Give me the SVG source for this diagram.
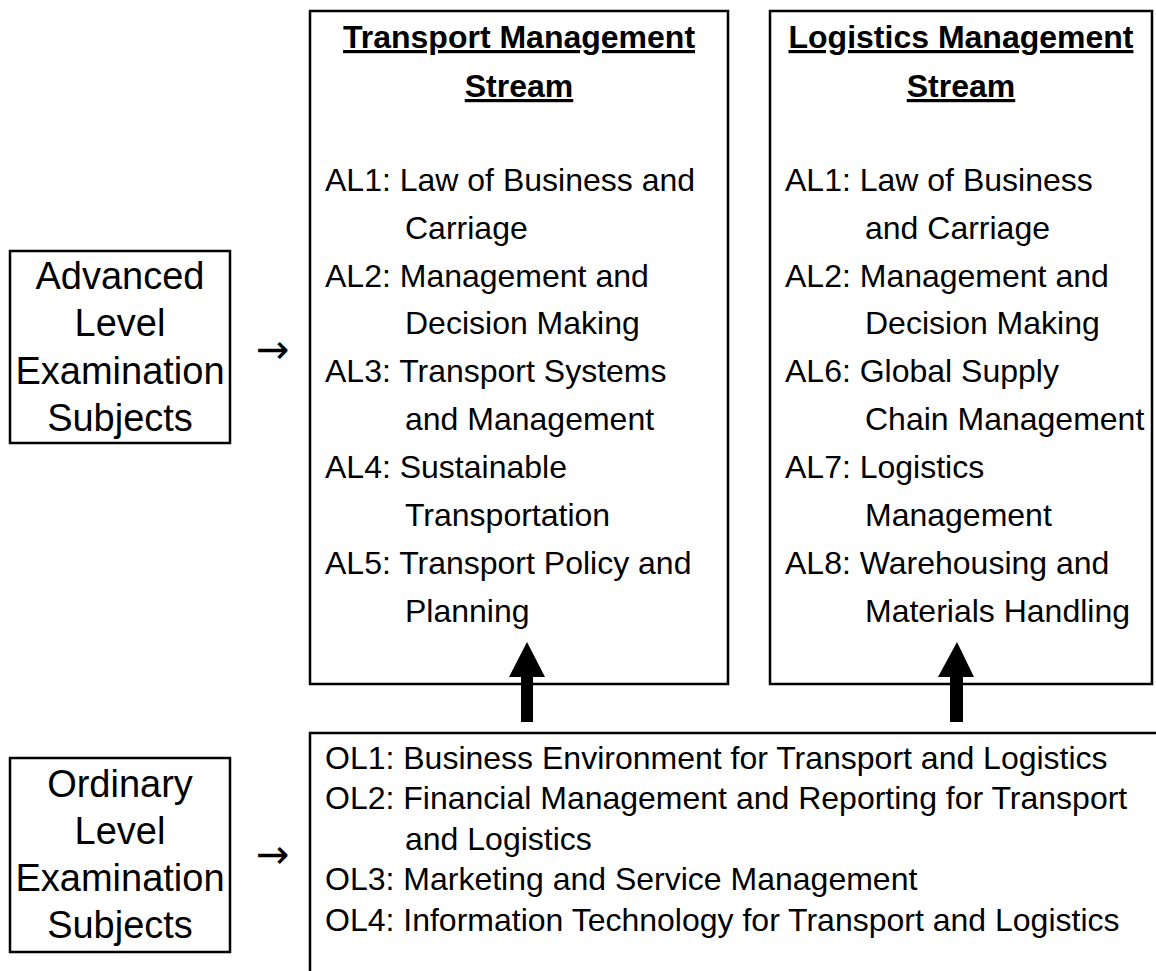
<svg xmlns="http://www.w3.org/2000/svg" width="1156" height="971" viewBox="0 0 1156 971">
<style>
.box{fill:#fff;stroke:#000;stroke-width:2.5}
.t{font-family:"Liberation Sans",Arial,sans-serif;font-size:32px;fill:#000}
.h{font-family:"Liberation Sans",Arial,sans-serif;font-size:32px;font-weight:bold;fill:#000;text-decoration:underline;text-anchor:middle}
.l{font-family:"Liberation Sans",Arial,sans-serif;font-size:38px;fill:#000;text-anchor:middle}
.ar{font-family:"DejaVu Sans",sans-serif;font-size:40px;fill:#000}
</style>
<rect width="1156" height="971" fill="#fff"/>
<g id="advanced">
<rect class="box" x="10" y="251" width="220" height="192"/>
<text class="l" x="120" y="289">Advanced</text>
<text class="l" x="120" y="336">Level</text>
<text class="l" x="120" y="384">Examination</text>
<text class="l" x="120" y="431">Subjects</text>
</g>
<g id="ordinary">
<rect class="box" x="10" y="758" width="220" height="194"/>
<text class="l" x="120" y="797">Ordinary</text>
<text class="l" x="120" y="844">Level</text>
<text class="l" x="120" y="891">Examination</text>
<text class="l" x="120" y="938">Subjects</text>
</g>
<g id="transport">
<rect class="box" x="310" y="11" width="418" height="673"/>
<text class="h" x="519" y="48">Transport Management</text>
<text class="h" x="519" y="97">Stream</text>
<text class="t" x="325" y="191">AL1: Law of Business and</text>
<text class="t" x="405" y="239">Carriage</text>
<text class="t" x="325" y="287">AL2: Management and</text>
<text class="t" x="405" y="334">Decision Making</text>
<text class="t" x="325" y="382">AL3: Transport Systems</text>
<text class="t" x="405" y="430">and Management</text>
<text class="t" x="325" y="478">AL4: Sustainable</text>
<text class="t" x="405" y="526">Transportation</text>
<text class="t" x="325" y="574">AL5: Transport Policy and</text>
<text class="t" x="405" y="622">Planning</text>
</g>
<g id="logistics">
<rect class="box" x="770" y="11" width="382" height="673"/>
<text class="h" x="961" y="48">Logistics Management</text>
<text class="h" x="961" y="97">Stream</text>
<text class="t" x="785" y="191">AL1: Law of Business</text>
<text class="t" x="865" y="239">and Carriage</text>
<text class="t" x="785" y="287">AL2: Management and</text>
<text class="t" x="865" y="334">Decision Making</text>
<text class="t" x="785" y="382">AL6: Global Supply</text>
<text class="t" x="865" y="430">Chain Management</text>
<text class="t" x="785" y="478">AL7: Logistics</text>
<text class="t" x="865" y="526">Management</text>
<text class="t" x="785" y="574">AL8: Warehousing and</text>
<text class="t" x="865" y="622">Materials Handling</text>
</g>
<g id="ordinary-subjects">
<rect class="box" x="310" y="733" width="900" height="300"/>
<text class="t" x="325" y="769">OL1: Business Environment for Transport and Logistics</text>
<text class="t" x="325" y="809">OL2: Financial Management and Reporting for Transport</text>
<text class="t" x="405" y="850">and Logistics</text>
<text class="t" x="325" y="890">OL3: Marketing and Service Management</text>
<text class="t" x="325" y="931">OL4: Information Technology for Transport and Logistics</text>
</g>
<g id="connectors">
<text class="ar" x="256" y="363">→</text>
<text class="ar" x="256" y="868">→</text>
<polygon points="521,722 533,722 533,677 545,677 527,642 509,677 521,677" fill="#000"/>
<polygon points="950,722 963,722 963,677 974,677 957,642 938,677 950,677" fill="#000"/>
</g>
</svg>
